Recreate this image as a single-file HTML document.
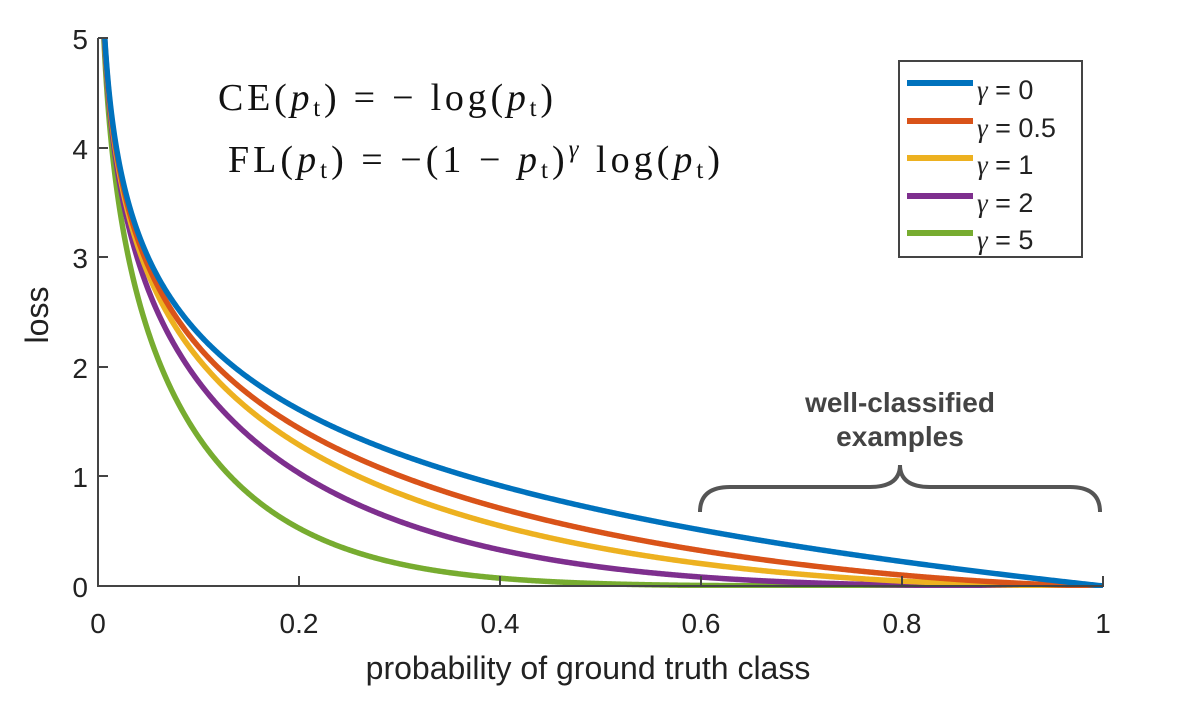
<!DOCTYPE html>
<html><head><style>
body{margin:0;background:#fff;width:1198px;height:703px;overflow:hidden}
svg{display:block}
.t{font-family:"Liberation Sans",sans-serif;font-size:28px;fill:#222}
.m{font-family:"Liberation Serif",serif;font-size:38px;fill:#111}
</style></head><body>
<svg id="s" width="1198" height="703" xmlns="http://www.w3.org/2000/svg">
<defs><clipPath id="c"><rect x="98" y="38" width="1010" height="550"/></clipPath></defs>
<g id="curves" clip-path="url(#c)"></g>
<line x1="98" y1="38" x2="98" y2="587" stroke="#444" stroke-width="2"/>
<line x1="97" y1="586" x2="1104" y2="586" stroke="#444" stroke-width="2"/>
<g stroke="#444" stroke-width="2">
<line x1="299" y1="586" x2="299" y2="576"/><line x1="500" y1="586" x2="500" y2="576"/>
<line x1="701" y1="586" x2="701" y2="576"/><line x1="902" y1="586" x2="902" y2="576"/>
<line x1="1103" y1="586" x2="1103" y2="576"/>
<line x1="98" y1="476" x2="108" y2="476"/><line x1="98" y1="367" x2="108" y2="367"/>
<line x1="98" y1="257" x2="108" y2="257"/><line x1="98" y1="148" x2="108" y2="148"/>
<line x1="98" y1="38" x2="108" y2="38"/>
</g>
<g class="t" text-anchor="end">
<text x="88" y="597">0</text><text x="88" y="487">1</text><text x="88" y="378">2</text>
<text x="88" y="268">3</text><text x="88" y="159">4</text><text x="88" y="49">5</text>
</g>
<g class="t" text-anchor="middle">
<text x="98" y="633">0</text><text x="299" y="633">0.2</text><text x="500" y="633">0.4</text>
<text x="701" y="633">0.6</text><text x="902" y="633">0.8</text><text x="1103" y="633">1</text>
</g>
<text class="t" x="588" y="679" text-anchor="middle" style="font-size:32px">probability of ground truth class</text>
<text class="t" x="48" y="315" text-anchor="middle" transform="rotate(-90 48 315)" style="font-size:32px">loss</text>
<text class="m" x="218" y="110" textLength="335" lengthAdjust="spacing">CE(<tspan font-style="italic">p</tspan><tspan font-size="25" dy="6">t</tspan><tspan dy="-6">) = − log(</tspan><tspan font-style="italic">p</tspan><tspan font-size="25" dy="6">t</tspan><tspan dy="-6">)</tspan></text>
<text class="m" x="228" y="172" textLength="492" lengthAdjust="spacing">FL(<tspan font-style="italic">p</tspan><tspan font-size="25" dy="6">t</tspan><tspan dy="-6">) = −(1 − </tspan><tspan font-style="italic">p</tspan><tspan font-size="25" dy="6">t</tspan><tspan dy="-6">)</tspan><tspan font-size="25" dy="-15" font-style="italic">γ</tspan><tspan dy="15"> log(</tspan><tspan font-style="italic">p</tspan><tspan font-size="25" dy="6">t</tspan><tspan dy="-6">)</tspan></text>
<rect x="899" y="61" width="183" height="196" fill="#fff" stroke="#444" stroke-width="2"/>
<g stroke-width="6">
<line x1="907" y1="83" x2="973" y2="83" stroke="#0072bd"/>
<line x1="907" y1="121" x2="973" y2="121" stroke="#d95319"/>
<line x1="907" y1="158" x2="973" y2="158" stroke="#edb120"/>
<line x1="907" y1="196" x2="973" y2="196" stroke="#7e2f8e"/>
<line x1="907" y1="233" x2="973" y2="233" stroke="#77ac30"/>
</g>
<g class="t" style="font-size:27px">
<text x="977" y="99"><tspan font-style="italic" font-family="Liberation Serif">γ</tspan> = 0</text>
<text x="977" y="137"><tspan font-style="italic" font-family="Liberation Serif">γ</tspan> = 0.5</text>
<text x="977" y="174"><tspan font-style="italic" font-family="Liberation Serif">γ</tspan> = 1</text>
<text x="977" y="212"><tspan font-style="italic" font-family="Liberation Serif">γ</tspan> = 2</text>
<text x="977" y="249"><tspan font-style="italic" font-family="Liberation Serif">γ</tspan> = 5</text>
</g>
<g font-family="Liberation Sans,sans-serif" font-size="28" fill="#444" font-weight="bold" text-anchor="middle">
<text x="900" y="412">well-classified</text><text x="900" y="446">examples</text>
</g>
<path d="M700,512 Q700,487 730,487 L870,487 Q900,487 900,465 Q900,487 930,487 L1070,487 Q1100,487 1100,512" fill="none" stroke="#555" stroke-width="4"/>
</svg>
<script>
var g=document.getElementById('curves');
var gs=[[0,'#0072bd'],[0.5,'#d95319'],[1,'#edb120'],[2,'#7e2f8e'],[5,'#77ac30']];
for(var k=gs.length-1;k>=0;k--){var gm=gs[k][0],d='';
for(var i=0;i<=1000;i++){var p=0.0055+i*(1-0.0055)/1000;var L=-Math.pow(1-p,gm)*Math.log(p);
var x=98+p*1005,y=586-L*109.6;d+=(i?'L':'M')+x.toFixed(2)+','+y.toFixed(2);}
var e=document.createElementNS('http://www.w3.org/2000/svg','path');e.setAttribute('d',d);e.setAttribute('fill','none');
e.setAttribute('stroke',gs[k][1]);e.setAttribute('stroke-width','5.5');g.appendChild(e);}
</script>
</body></html>
